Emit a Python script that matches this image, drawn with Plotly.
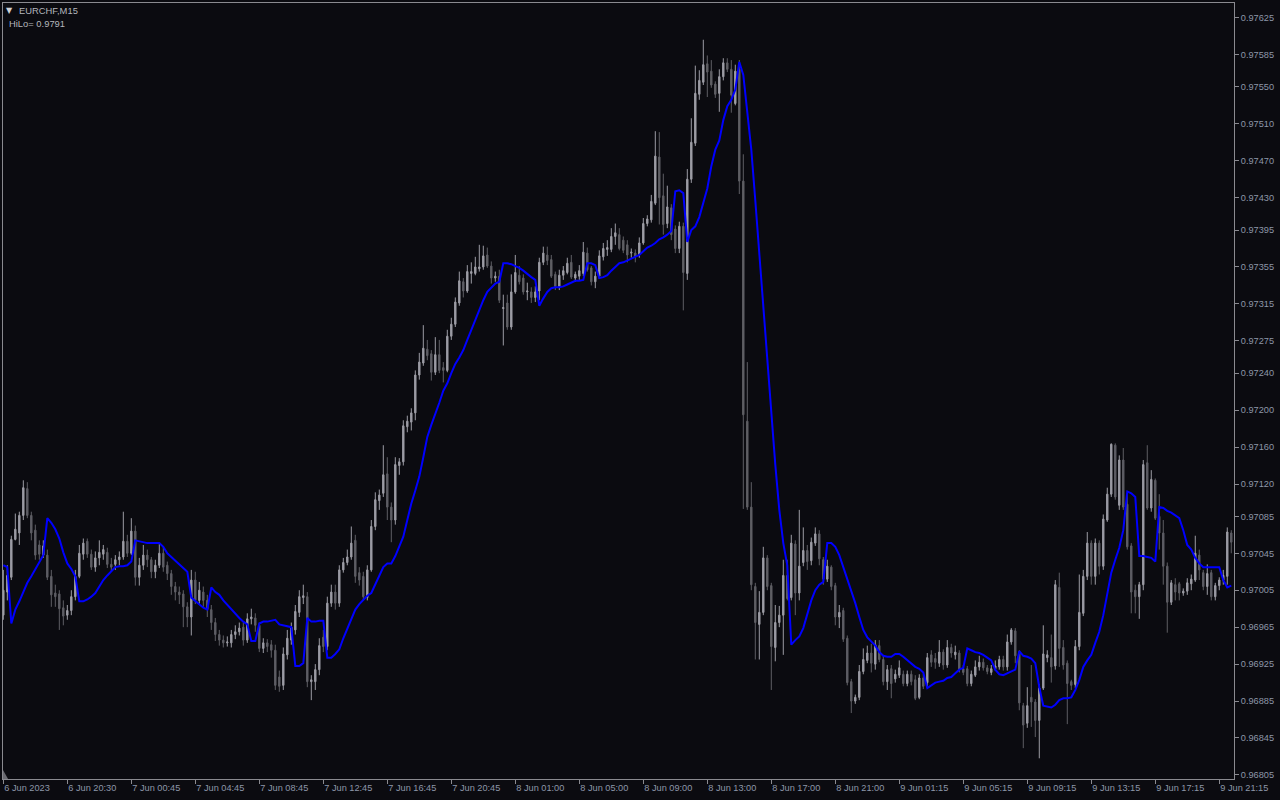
import plotly.graph_objects as go

# ---------------- data (EURCHF, M15) ----------------
opens = [
0.96978,0.97003,0.97019,0.97060,0.97067,0.97086,0.97115,0.97086,0.97070,0.97054,
0.97043,0.97043,0.97020,0.97002,0.97001,0.96986,0.96978,0.96983,0.96998,0.97020,
0.97044,0.97058,0.97044,0.97030,0.97040,0.97044,0.97046,0.97033,0.97033,0.97038,
0.97041,0.97058,0.97045,0.97069,0.97019,0.97032,0.97043,0.97038,0.97025,0.97032,
0.97045,0.97032,0.97023,0.97009,0.97003,0.97001,0.96987,0.96976,0.97016,0.96994,
0.97003,0.96994,0.96984,0.96970,0.96957,0.96951,0.96948,0.96948,0.96957,0.96960,
0.96965,0.96951,0.96974,0.96975,0.96967,0.96942,0.96948,0.96946,0.96940,0.96911,
0.96902,0.96935,0.96951,0.96962,0.96981,0.96997,0.96998,0.96906,0.96906,0.96919,
0.96954,0.96944,0.96991,0.97003,0.96991,0.97027,0.97035,0.97041,0.97059,0.97024,
0.97020,0.96997,0.97027,0.97074,0.97102,0.97110,0.97131,0.97095,0.97081,0.97140,
0.97144,0.97182,0.97187,0.97197,0.97238,0.97251,0.97266,0.97261,0.97241,0.97260,
0.97246,0.97243,0.97280,0.97293,0.97316,0.97339,0.97329,0.97348,0.97348,0.97353,
0.97355,0.97368,0.97356,0.97343,0.97345,0.97310,0.97316,0.97290,0.97328,0.97346,
0.97343,0.97328,0.97328,0.97322,0.97329,0.97360,0.97368,0.97363,0.97347,0.97334,
0.97346,0.97349,0.97360,0.97343,0.97345,0.97348,0.97370,0.97354,0.97339,0.97345,
0.97366,0.97374,0.97374,0.97388,0.97390,0.97384,0.97379,0.97370,0.97370,0.97368,
0.97381,0.97402,0.97406,0.97424,0.97474,0.97432,0.97402,0.97419,0.97396,0.97375,
0.97399,0.97348,0.97450,0.97489,0.97542,0.97555,0.97575,0.97567,0.97553,0.97543,
0.97561,0.97576,0.97569,0.97532,0.97569,0.97448,0.97188,0.97095,0.97009,0.96968,
0.96981,0.97040,0.97010,0.96943,0.96970,0.96978,0.97021,0.96997,0.97055,0.97002,
0.97035,0.97048,0.97037,0.97056,0.97066,0.97038,0.97017,0.97030,0.97010,0.96976,
0.96983,0.96953,0.96906,0.96885,0.96889,0.96917,0.96929,0.96937,0.96925,0.96945,
0.96930,0.96906,0.96920,0.96909,0.96913,0.96914,0.96904,0.96914,0.96908,0.96889,
0.96910,0.96905,0.96935,0.96931,0.96926,0.96938,0.96924,0.96943,0.96935,0.96937,
0.96920,0.96920,0.96904,0.96913,0.96922,0.96927,0.96921,0.96916,0.96920,0.96922,
0.96930,0.96922,0.96949,0.96961,0.96938,0.96880,0.96861,0.96889,0.96884,0.96864,
0.96899,0.96932,0.96932,0.96923,0.97008,0.96943,0.96926,0.96906,0.96903,0.96944,
0.96980,0.97020,0.97056,0.97020,0.97056,0.97031,0.97081,0.97109,0.97162,0.97097,
0.97146,0.97098,0.97053,0.97005,0.96998,0.97011,0.97143,0.97094,0.97124,0.97085,
0.97067,0.97031,0.96992,0.97011,0.97012,0.97002,0.97004,0.97012,0.97016,0.97043,
0.97024,0.97009,0.97024,0.96998,0.97010,0.97016,0.97020,0.97067]

highs = [
0.97027,0.97032,0.97064,0.97088,0.97090,0.97124,0.97122,0.97090,0.97076,0.97059,
0.97059,0.97049,0.97027,0.97011,0.97005,0.96994,0.96989,0.97005,0.97027,0.97054,
0.97061,0.97061,0.97049,0.97047,0.97059,0.97054,0.97051,0.97040,0.97043,0.97047,
0.97090,0.97065,0.97083,0.97075,0.97040,0.97054,0.97049,0.97041,0.97038,0.97056,
0.97052,0.97036,0.97027,0.97014,0.97009,0.97005,0.96992,0.97027,0.97025,0.97014,
0.97009,0.97000,0.96989,0.96975,0.96962,0.96956,0.96955,0.96962,0.96967,0.96970,
0.96970,0.96980,0.96985,0.96980,0.96970,0.96953,0.96952,0.96951,0.96946,0.96918,
0.96943,0.96962,0.96970,0.96989,0.97005,0.97011,0.97003,0.96913,0.96925,0.96953,
0.96962,0.96998,0.97011,0.97011,0.97032,0.97040,0.97049,0.97074,0.97065,0.97030,
0.97025,0.97032,0.97081,0.97111,0.97114,0.97162,0.97149,0.97100,0.97149,0.97148,
0.97189,0.97194,0.97202,0.97243,0.97262,0.97292,0.97276,0.97265,0.97279,0.97276,
0.97252,0.97287,0.97300,0.97322,0.97350,0.97343,0.97357,0.97360,0.97366,0.97379,
0.97378,0.97376,0.97361,0.97350,0.97352,0.97325,0.97325,0.97347,0.97368,0.97356,
0.97347,0.97338,0.97333,0.97334,0.97365,0.97377,0.97377,0.97368,0.97350,0.97352,
0.97356,0.97365,0.97368,0.97350,0.97357,0.97382,0.97376,0.97356,0.97350,0.97373,
0.97381,0.97384,0.97397,0.97402,0.97397,0.97388,0.97384,0.97375,0.97374,0.97387,
0.97408,0.97411,0.97433,0.97502,0.97501,0.97456,0.97443,0.97423,0.97400,0.97404,
0.97403,0.97461,0.97516,0.97573,0.97568,0.97601,0.97584,0.97579,0.97556,0.97569,
0.97581,0.97581,0.97579,0.97574,0.97579,0.97477,0.97252,0.97122,0.97013,0.97004,
0.97052,0.97043,0.97013,0.96989,0.96988,0.97038,0.97038,0.97065,0.97059,0.97092,
0.97073,0.97054,0.97062,0.97073,0.97070,0.97041,0.97038,0.97032,0.97013,0.96989,
0.96986,0.96956,0.96909,0.96892,0.96924,0.96942,0.96945,0.96947,0.96951,0.96951,
0.96934,0.96924,0.96924,0.96919,0.96929,0.96918,0.96918,0.96918,0.96913,0.96914,
0.96914,0.96937,0.96940,0.96937,0.96951,0.96941,0.96951,0.96947,0.96945,0.96940,
0.96924,0.96923,0.96918,0.96929,0.96934,0.96931,0.96924,0.96924,0.96929,0.96934,
0.96934,0.96957,0.96964,0.96964,0.96940,0.96883,0.96900,0.96924,0.96887,0.96903,
0.96967,0.96940,0.96957,0.97016,0.97024,0.96951,0.96929,0.96908,0.96951,0.97022,
0.97027,0.97068,0.97059,0.97061,0.97059,0.97087,0.97116,0.97164,0.97164,0.97151,
0.97159,0.97109,0.97056,0.97011,0.97014,0.97146,0.97162,0.97135,0.97126,0.97109,
0.97081,0.97035,0.97016,0.97018,0.97014,0.97007,0.97018,0.97022,0.97064,0.97049,
0.97027,0.97033,0.97027,0.97013,0.97019,0.97027,0.97073,0.97070]

lows = [
0.96973,0.96994,0.97016,0.97059,0.97054,0.97081,0.97083,0.97059,0.97038,0.97038,
0.97040,0.97016,0.96987,0.96987,0.96962,0.96967,0.96973,0.96978,0.96994,0.97018,
0.97038,0.97040,0.97027,0.97025,0.97032,0.97038,0.97029,0.97025,0.97027,0.97032,
0.97038,0.97041,0.97043,0.97010,0.97010,0.97027,0.97030,0.97018,0.97018,0.97029,
0.97025,0.97016,0.97000,0.96994,0.96990,0.96965,0.96965,0.96956,0.96990,0.96990,
0.96987,0.96976,0.96962,0.96950,0.96945,0.96943,0.96944,0.96943,0.96952,0.96956,
0.96945,0.96948,0.96968,0.96960,0.96938,0.96937,0.96938,0.96932,0.96897,0.96895,
0.96897,0.96930,0.96946,0.96957,0.96976,0.96990,0.96900,0.96886,0.96897,0.96913,
0.96938,0.96940,0.96987,0.96984,0.96987,0.97024,0.97032,0.97038,0.97013,0.97010,
0.96994,0.96994,0.97025,0.97070,0.97092,0.97106,0.97081,0.97057,0.97076,0.97130,
0.97140,0.97176,0.97178,0.97189,0.97233,0.97248,0.97254,0.97232,0.97238,0.97240,
0.97230,0.97241,0.97276,0.97290,0.97313,0.97322,0.97327,0.97337,0.97346,0.97350,
0.97352,0.97354,0.97337,0.97339,0.97316,0.97270,0.97287,0.97287,0.97326,0.97336,
0.97325,0.97319,0.97316,0.97317,0.97319,0.97357,0.97357,0.97343,0.97330,0.97330,
0.97341,0.97347,0.97342,0.97339,0.97341,0.97345,0.97350,0.97335,0.97332,0.97342,
0.97362,0.97367,0.97371,0.97379,0.97373,0.97370,0.97360,0.97365,0.97360,0.97365,
0.97379,0.97399,0.97403,0.97422,0.97401,0.97390,0.97397,0.97384,0.97370,0.97370,
0.97308,0.97341,0.97446,0.97486,0.97536,0.97552,0.97539,0.97549,0.97538,0.97523,
0.97557,0.97566,0.97522,0.97530,0.97434,0.97093,0.97092,0.97005,0.96930,0.96930,
0.96978,0.97005,0.96897,0.96928,0.96965,0.96935,0.96994,0.96994,0.96978,0.96994,
0.97031,0.97027,0.97032,0.97053,0.97032,0.97011,0.97014,0.97005,0.96967,0.96964,
0.96949,0.96902,0.96872,0.96882,0.96886,0.96914,0.96926,0.96916,0.96919,0.96927,
0.96902,0.96897,0.96888,0.96905,0.96910,0.96901,0.96901,0.96902,0.96886,0.96887,
0.96898,0.96901,0.96922,0.96920,0.96922,0.96919,0.96921,0.96932,0.96930,0.96916,
0.96913,0.96901,0.96901,0.96911,0.96918,0.96918,0.96914,0.96913,0.96918,0.96919,
0.96918,0.96918,0.96946,0.96926,0.96875,0.96834,0.96856,0.96857,0.96846,0.96823,
0.96897,0.96927,0.96905,0.96919,0.96922,0.96919,0.96860,0.96897,0.96899,0.96940,
0.96977,0.97016,0.97011,0.97011,0.97022,0.97027,0.97079,0.97106,0.97103,0.97092,
0.97092,0.97049,0.96980,0.96980,0.96974,0.97005,0.97092,0.97090,0.97081,0.97049,
0.97011,0.96959,0.96989,0.96994,0.96994,0.96999,0.97000,0.97005,0.97014,0.97016,
0.97005,0.97000,0.96994,0.96994,0.97005,0.97011,0.97011,0.97045]

closes = [
0.97005,0.97021,0.97060,0.97071,0.97086,0.97116,0.97086,0.97067,0.97043,0.97044,
0.97053,0.97019,0.97000,0.96998,0.96985,0.96977,0.96983,0.96998,0.97020,0.97045,
0.97056,0.97044,0.97030,0.97040,0.97046,0.97049,0.97033,0.97030,0.97038,0.97041,
0.97058,0.97045,0.97069,0.97019,0.97032,0.97043,0.97038,0.97025,0.97032,0.97045,
0.97030,0.97023,0.97009,0.97003,0.97000,0.96987,0.96976,0.97016,0.96994,0.97005,
0.96994,0.96984,0.96970,0.96957,0.96951,0.96948,0.96949,0.96957,0.96960,0.96964,
0.96951,0.96974,0.96976,0.96967,0.96942,0.96948,0.96944,0.96940,0.96902,0.96901,
0.96936,0.96953,0.96965,0.96982,0.96998,0.96999,0.96906,0.96908,0.96919,0.96945,
0.96944,0.96991,0.97003,0.96991,0.97027,0.97035,0.97041,0.97056,0.97020,0.97016,
0.96998,0.97027,0.97074,0.97103,0.97108,0.97130,0.97095,0.97081,0.97141,0.97144,
0.97183,0.97188,0.97197,0.97238,0.97252,0.97267,0.97259,0.97241,0.97260,0.97243,
0.97243,0.97280,0.97293,0.97317,0.97340,0.97329,0.97350,0.97350,0.97355,0.97355,
0.97367,0.97356,0.97343,0.97345,0.97319,0.97311,0.97290,0.97328,0.97349,0.97339,
0.97328,0.97329,0.97322,0.97328,0.97360,0.97370,0.97362,0.97345,0.97334,0.97346,
0.97351,0.97359,0.97344,0.97347,0.97351,0.97371,0.97352,0.97339,0.97345,0.97367,
0.97375,0.97376,0.97388,0.97392,0.97375,0.97373,0.97368,0.97371,0.97366,0.97381,
0.97402,0.97407,0.97426,0.97475,0.97430,0.97401,0.97420,0.97390,0.97375,0.97399,
0.97349,0.97450,0.97490,0.97543,0.97557,0.97574,0.97566,0.97552,0.97542,0.97561,
0.97576,0.97569,0.97541,0.97567,0.97448,0.97195,0.97095,0.97011,0.96970,0.96981,
0.97040,0.97009,0.96944,0.96970,0.96978,0.97021,0.96996,0.97056,0.97002,0.97031,
0.97048,0.97036,0.97057,0.97066,0.97039,0.97017,0.97031,0.97009,0.96976,0.96981,
0.96952,0.96905,0.96885,0.96889,0.96917,0.96930,0.96937,0.96926,0.96946,0.96930,
0.96906,0.96919,0.96904,0.96914,0.96921,0.96904,0.96914,0.96906,0.96888,0.96910,
0.96901,0.96932,0.96927,0.96927,0.96938,0.96924,0.96943,0.96937,0.96938,0.96919,
0.96916,0.96904,0.96914,0.96922,0.96927,0.96921,0.96917,0.96920,0.96923,0.96930,
0.96922,0.96949,0.96962,0.96934,0.96883,0.96859,0.96880,0.96884,0.96864,0.96899,
0.96936,0.96935,0.96922,0.97011,0.96942,0.96924,0.96904,0.96902,0.96944,0.96981,
0.97020,0.97056,0.97020,0.97056,0.97031,0.97082,0.97109,0.97163,0.97106,0.97146,
0.97095,0.97052,0.97003,0.96998,0.97011,0.97141,0.97094,0.97125,0.97083,0.97067,
0.97031,0.96992,0.97013,0.97003,0.97002,0.97004,0.97013,0.97017,0.97045,0.97027,
0.97009,0.97023,0.96998,0.97010,0.97016,0.97021,0.97068,0.97057]

hilo = [
0.97032,0.97030,0.96969,0.96984,0.96993,0.97003,0.97013,0.97020,0.97028,0.97036,
0.97043,0.97083,0.97078,0.97071,0.97061,0.97046,0.97034,0.97028,0.97020,0.96993,
0.96993,0.96995,0.96998,0.97002,0.97009,0.97016,0.97021,0.97026,0.97030,0.97031,
0.97031,0.97032,0.97036,0.97059,0.97058,0.97057,0.97056,0.97056,0.97056,0.97056,
0.97052,0.97045,0.97041,0.97037,0.97034,0.97030,0.97025,0.96997,0.96993,0.96989,
0.96986,0.96984,0.97008,0.97003,0.97000,0.96994,0.96989,0.96985,0.96979,0.96975,
0.96971,0.96968,0.96950,0.96950,0.96969,0.96971,0.96971,0.96972,0.96973,0.96968,
0.96967,0.96966,0.96965,0.96923,0.96923,0.96926,0.96975,0.96971,0.96971,0.96972,
0.96972,0.96932,0.96932,0.96936,0.96941,0.96953,0.96964,0.96975,0.96984,0.96990,
0.96995,0.96999,0.97002,0.97011,0.97021,0.97030,0.97034,0.97034,0.97042,0.97052,
0.97063,0.97081,0.97099,0.97113,0.97128,0.97149,0.97171,0.97184,0.97195,0.97208,
0.97221,0.97229,0.97240,0.97250,0.97257,0.97265,0.97276,0.97287,0.97298,0.97307,
0.97319,0.97328,0.97333,0.97337,0.97339,0.97359,0.97359,0.97358,0.97356,0.97354,
0.97351,0.97347,0.97344,0.97341,0.97313,0.97321,0.97328,0.97332,0.97333,0.97333,
0.97334,0.97336,0.97338,0.97340,0.97340,0.97341,0.97359,0.97359,0.97357,0.97343,
0.97344,0.97346,0.97351,0.97355,0.97359,0.97360,0.97362,0.97364,0.97366,0.97368,
0.97372,0.97376,0.97378,0.97381,0.97385,0.97387,0.97390,0.97394,0.97437,0.97438,
0.97435,0.97382,0.97395,0.97399,0.97409,0.97424,0.97440,0.97464,0.97482,0.97492,
0.97514,0.97529,0.97536,0.97547,0.97577,0.97563,0.97520,0.97482,0.97427,0.97368,
0.97308,0.97254,0.97195,0.97141,0.97092,0.97056,0.97032,0.96946,0.96951,0.96955,
0.96964,0.96978,0.96994,0.97005,0.97011,0.97014,0.97056,0.97056,0.97052,0.97043,
0.97030,0.97016,0.97005,0.96991,0.96976,0.96962,0.96954,0.96950,0.96945,0.96938,
0.96934,0.96933,0.96933,0.96936,0.96936,0.96933,0.96929,0.96926,0.96922,0.96920,
0.96916,0.96899,0.96902,0.96905,0.96906,0.96907,0.96910,0.96911,0.96915,0.96919,
0.96921,0.96942,0.96940,0.96938,0.96937,0.96935,0.96932,0.96929,0.96919,0.96914,
0.96913,0.96915,0.96917,0.96919,0.96939,0.96934,0.96933,0.96931,0.96926,0.96900,
0.96880,0.96879,0.96878,0.96881,0.96886,0.96888,0.96888,0.96889,0.96897,0.96908,
0.96922,0.96929,0.96935,0.96948,0.96960,0.96978,0.97000,0.97024,0.97038,0.97051,
0.97070,0.97112,0.97110,0.97106,0.97042,0.97042,0.97041,0.97040,0.97036,0.97095,
0.97094,0.97091,0.97089,0.97086,0.97083,0.97070,0.97054,0.97049,0.97040,0.97034,
0.97030,0.97030,0.97030,0.97030,0.97030,0.97016,0.97008,0.97010]

x_tick_labels = ["6 Jun 2023", "6 Jun 20:30", "7 Jun 00:45", "7 Jun 04:45", "7 Jun 08:45",
                 "7 Jun 12:45", "7 Jun 16:45", "7 Jun 20:45", "8 Jun 01:00", "8 Jun 05:00",
                 "8 Jun 09:00", "8 Jun 13:00", "8 Jun 17:00", "8 Jun 21:00", "9 Jun 01:15",
                 "9 Jun 05:15", "9 Jun 09:15", "9 Jun 13:15", "9 Jun 17:15", "9 Jun 21:15"]
x_tick_bars = [0, 16, 32, 48, 64, 80, 96, 112, 128, 144,
               160, 176, 192, 208, 224, 240, 256, 272, 288, 304]
y_tick_values = [0.97625, 0.97585, 0.97550, 0.97510, 0.97470, 0.97430, 0.97395, 0.97355,
                 0.97315, 0.97275, 0.97240, 0.97200, 0.97160, 0.97120, 0.97085, 0.97045,
                 0.97005, 0.96965, 0.96925, 0.96885, 0.96845, 0.96805]

# ---------------- style ----------------
BG = "#0b0b10"
FRAME = "#8a8a90"
TXT = "#8d97a9"
BULL = "#9c9ca4"
BEAR = "#5e5e64"
FONT = "Liberation Sans, Arial, sans-serif"

bars = list(range(len(opens)))

fig = go.Figure()
fig.add_trace(go.Candlestick(
    x=bars, open=opens, high=highs, low=lows, close=closes,
    increasing=dict(line=dict(color=BULL, width=1), fillcolor=BULL),
    decreasing=dict(line=dict(color=BEAR, width=1), fillcolor=BEAR),
    whiskerwidth=0, showlegend=False, hoverinfo="skip", name="EURCHF,M15"))
fig.add_trace(go.Scatter(
    x=bars, y=hilo, mode="lines", name="HiLo",
    line=dict(color="#0000ff", width=2), showlegend=False, hoverinfo="skip"))

fig.update_layout(
    width=1280, height=800,
    margin=dict(l=3, r=46, t=3, b=21, pad=0),
    paper_bgcolor=BG, plot_bgcolor=BG,
    boxgap=0.5, showlegend=False,
    font=dict(family=FONT, size=9.2, color=TXT),
)
fig.update_xaxes(
    range=[-0.08, 307.68], rangeslider_visible=False,
    showgrid=False, zeroline=False,
    showline=True, linecolor=FRAME, linewidth=1, mirror=True,
    ticks="outside", ticklen=4, tickwidth=1, tickcolor=FRAME,
    tickvals=x_tick_bars, ticktext=x_tick_labels,
    ticklabelposition="outside right",
    tickfont=dict(family=FONT, size=9.2, color=TXT),
)
fig.update_yaxes(
    side="right", range=[0.968006, 0.976408],
    showgrid=False, zeroline=False,
    showline=True, linecolor=FRAME, linewidth=1, mirror=True,
    ticks="outside", ticklen=4, tickwidth=1, tickcolor=FRAME,
    tickvals=y_tick_values, ticktext=[f"{v:.5f}" for v in y_tick_values],
    tickfont=dict(family=FONT, size=9.2, color=TXT),
)

# header texts
fig.add_annotation(text="▼", xref="paper", yref="paper", x=0, y=1, xanchor="left", yanchor="middle",
                   xshift=1, yshift=-7, showarrow=False, font=dict(family="DejaVu Sans", size=8, color="#d0d0d4"))
fig.add_annotation(text="EURCHF,M15", xref="paper", yref="paper", x=0, y=1, xanchor="left", yanchor="middle",
                   xshift=14, yshift=-7, showarrow=False, font=dict(family=FONT, size=9.4, color="#b4b6bc"))
fig.add_annotation(text="HiLo= 0.9791", xref="paper", yref="paper", x=0, y=1, xanchor="left", yanchor="middle",
                   xshift=4, yshift=-20, showarrow=False, font=dict(family=FONT, size=9.4, color="#b4b6bc"))

# small shift marker at bottom-left
fig.add_shape(type="path", xref="paper", yref="paper",
              path="M 0 0.0116 L 0 0 L 0.0041 0 Z",
              fillcolor="#6a6a70", line=dict(width=0))

fig.write_html("out.html", include_plotlyjs=True, full_html=True,
               config={"displayModeBar": False},
               post_script="document.body.style.margin='0';document.body.style.background='#0b0b10';")
